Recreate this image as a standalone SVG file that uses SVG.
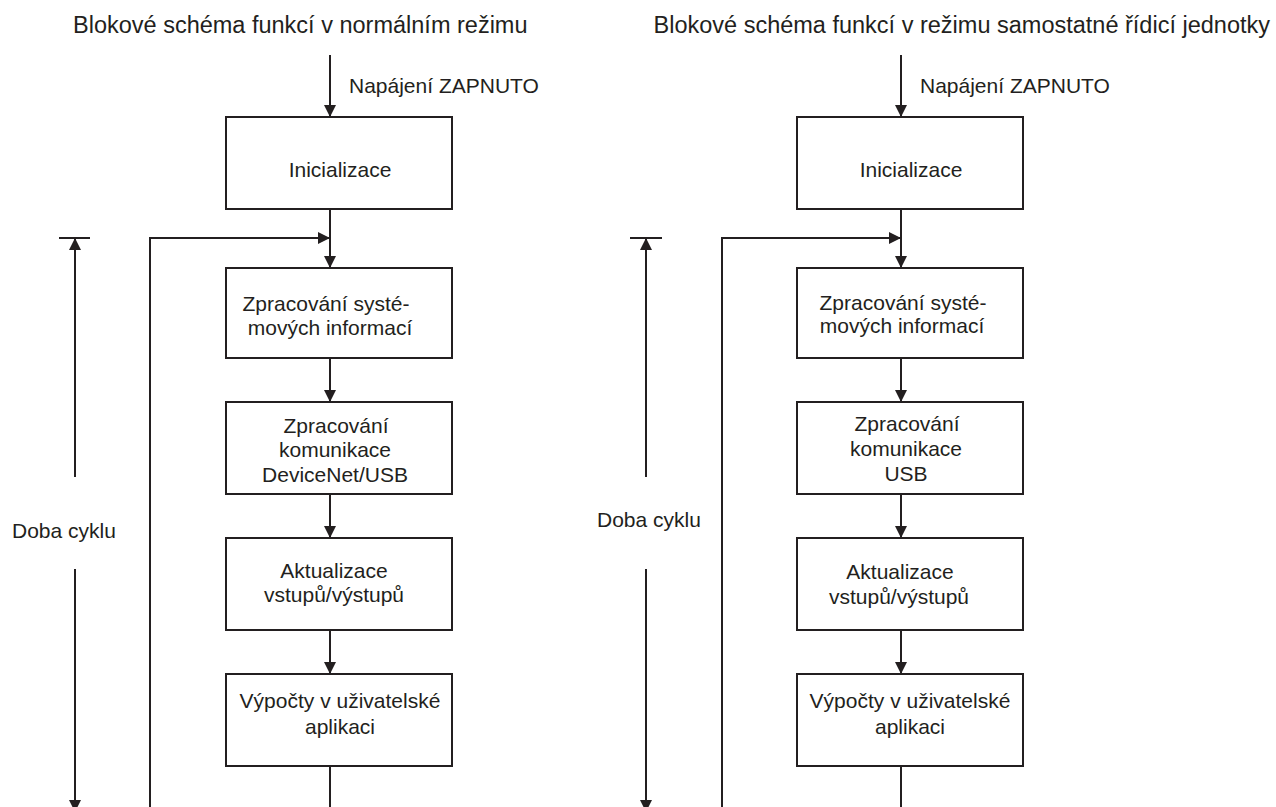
<svg xmlns="http://www.w3.org/2000/svg" width="1276" height="807" viewBox="0 0 1276 807">
<style>
text{font-family:"Liberation Sans",Arial,Helvetica,sans-serif;fill:#231f20}
.t{font-size:23.5px}
.l{font-size:21px}
.c{text-anchor:middle}
.box{fill:#fff;stroke:#231f20;stroke-width:2}
.ln{fill:none;stroke:#231f20;stroke-width:2}
</style>
<defs>
<marker id="arr" markerUnits="userSpaceOnUse" markerWidth="12" markerHeight="12" refX="12" refY="6" orient="auto">
<path d="M0,0 L12,6 L0,12 z" fill="#231f20"/>
</marker>
</defs>
<rect width="1276" height="807" fill="#fff"/>
<text class="t" x="73" y="33">Blokové schéma funkcí v normálním režimu</text>
<text class="t" x="1270" y="33" text-anchor="end">Blokové schéma funkcí v režimu samostatné řídicí jednotky</text>
<g id="connectors">
<path class="ln" d="M330,55 V117" marker-end="url(#arr)"/>
<path class="ln" d="M330,209 V268" marker-end="url(#arr)"/>
<path class="ln" d="M150,807 V238 H330" marker-end="url(#arr)"/>
<path class="ln" d="M330,358 V402" marker-end="url(#arr)"/>
<path class="ln" d="M330,494 V538" marker-end="url(#arr)"/>
<path class="ln" d="M330,630 V674" marker-end="url(#arr)"/>
<path class="ln" d="M330,766 V807"/>
<path class="ln" d="M59,238 H90"/>
<path class="ln" d="M75,477 V238" marker-end="url(#arr)"/>
<path class="ln" d="M75,569 V812" marker-end="url(#arr)"/>
<path class="ln" d="M901,55 V117" marker-end="url(#arr)"/>
<path class="ln" d="M901,209 V268" marker-end="url(#arr)"/>
<path class="ln" d="M722,807 V238 H901" marker-end="url(#arr)"/>
<path class="ln" d="M901,358 V402" marker-end="url(#arr)"/>
<path class="ln" d="M901,494 V538" marker-end="url(#arr)"/>
<path class="ln" d="M901,630 V674" marker-end="url(#arr)"/>
<path class="ln" d="M901,766 V807"/>
<path class="ln" d="M630,238 H662"/>
<path class="ln" d="M646,477 V238" marker-end="url(#arr)"/>
<path class="ln" d="M646,569 V812" marker-end="url(#arr)"/>
</g>
<g id="label-power-left"><text class="l" x="349" y="93">Napájení ZAPNUTO</text></g>
<g id="label-power-right"><text class="l" x="920" y="93">Napájení ZAPNUTO</text></g>
<g id="label-cycle-left"><text class="l" x="12" y="538">Doba cyklu</text></g>
<g id="label-cycle-right"><text class="l" x="597" y="527">Doba cyklu</text></g>
<g id="left-init"><rect class="box" x="226" y="117" width="226" height="92"/><text class="l c" x="340" y="177">Inicializace</text></g>
<g id="left-sys"><rect class="box" x="226" y="268" width="226" height="90"/><text class="l c" x="326" y="311">Zpracování systé-</text><text class="l c" x="330" y="335">mových informací</text></g>
<g id="left-comm"><rect class="box" x="226" y="402" width="226" height="92"/><text class="l c" x="336" y="433">Zpracování</text><text class="l c" x="335" y="457">komunikace</text><text class="l c" x="335" y="482">DeviceNet/USB</text></g>
<g id="left-io"><rect class="box" x="226" y="538" width="226" height="92"/><text class="l c" x="334" y="578">Aktualizace</text><text class="l c" x="334" y="602">vstupů/výstupů</text></g>
<g id="left-calc"><rect class="box" x="226" y="674" width="226" height="92"/><text class="l c" x="340" y="708">Výpočty v uživatelské</text><text class="l c" x="340" y="734">aplikaci</text></g>
<g id="right-init"><rect class="box" x="797" y="117" width="226" height="92"/><text class="l c" x="911" y="177">Inicializace</text></g>
<g id="right-sys"><rect class="box" x="797" y="268" width="226" height="90"/><text class="l c" x="903" y="310">Zpracování systé-</text><text class="l c" x="902" y="333">mových informací</text></g>
<g id="right-comm"><rect class="box" x="797" y="402" width="226" height="92"/><text class="l c" x="907" y="431">Zpracování</text><text class="l c" x="906" y="456">komunikace</text><text class="l c" x="906" y="481">USB</text></g>
<g id="right-io"><rect class="box" x="797" y="538" width="226" height="92"/><text class="l c" x="900" y="579">Aktualizace</text><text class="l c" x="899" y="604">vstupů/výstupů</text></g>
<g id="right-calc"><rect class="box" x="797" y="674" width="226" height="92"/><text class="l c" x="910" y="708">Výpočty v uživatelské</text><text class="l c" x="910" y="734">aplikaci</text></g>
</svg>
